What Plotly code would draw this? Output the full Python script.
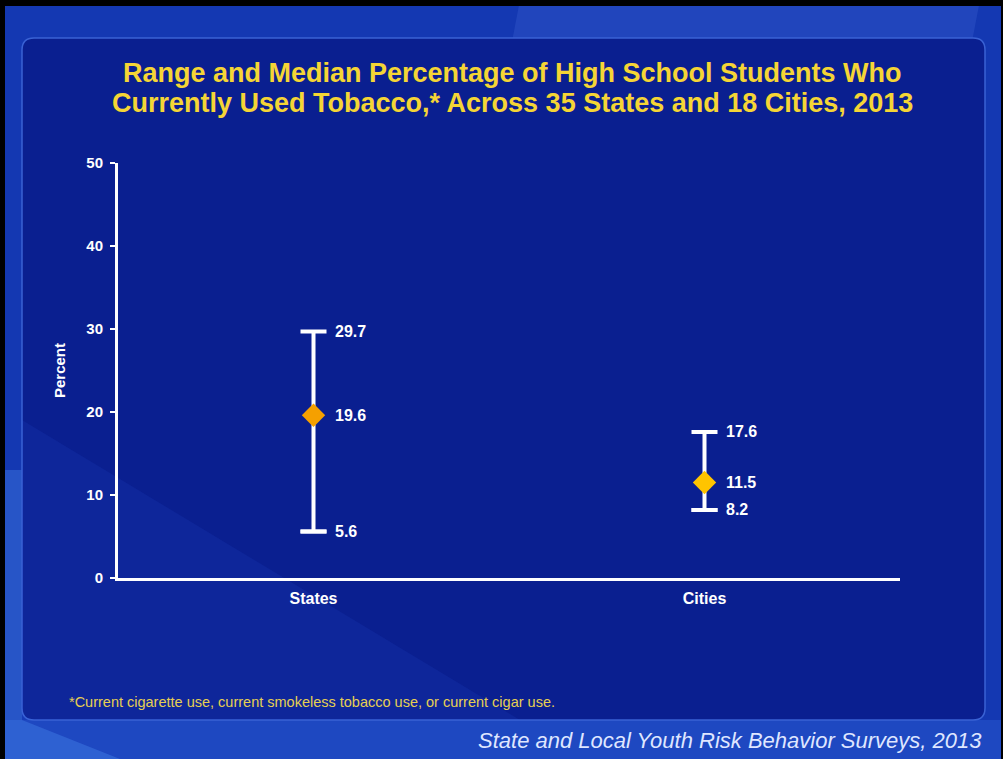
import plotly.graph_objects as go

categories = ["States", "Cities"]
lows = [5.6, 8.2]
medians = [19.6, 11.5]
highs = [29.7, 17.6]
y_ticks = [0, 10, 20, 30, 40, 50]

title_lines = ["Range and Median Percentage of High School Students Who",
               "Currently Used Tobacco,* Across 35 States and 18 Cities, 2013"]
footnote = "*Current cigarette use, current smokeless tobacco use, or current cigar use."
source = "State and Local Youth Risk Behavior Surveys, 2013"
median_colors = ["#f5a000", "#ffc400"]

W, H = 1003, 759
ML, MR, MT, MB = 118, 103, 163, 181
PW, PH = W - ML - MR, H - MT - MB


def fx(x):
    return (x - ML) / PW


def fy(y):
    return (H - MB - y) / PH


fig = go.Figure()

# range lines with caps
fig.add_trace(go.Scatter(
    x=categories, y=lows, mode="markers",
    marker=dict(size=1, color="rgba(0,0,0,0)"),
    error_y=dict(type="data", symmetric=False,
                 array=[h - l for h, l in zip(highs, lows)],
                 arrayminus=[0, 0], color="white", thickness=4, width=13),
    hoverinfo="skip", showlegend=False))
fig.add_trace(go.Scatter(
    x=categories, y=lows, mode="markers",
    marker=dict(size=1, color="rgba(0,0,0,0)"),
    error_y=dict(type="data", symmetric=False, array=[0, 0], arrayminus=[0, 0],
                 color="white", thickness=4, width=13),
    hoverinfo="skip", showlegend=False))
# medians
fig.add_trace(go.Scatter(
    x=categories, y=medians, mode="markers",
    marker=dict(symbol="diamond", size=18, color=median_colors, line=dict(width=0)),
    showlegend=False))

annotations = []
for c, l, m, h in zip(categories, lows, medians, highs):
    for v in (l, m, h):
        annotations.append(dict(x=c, y=v, xref="x", yref="y", text=f"{v:.1f}",
                                showarrow=False, xanchor="left", yanchor="middle",
                                xshift=19, font=dict(family="Arial", size=16, color="white",
                                                     weight="bold")))

for line, yc in zip(title_lines, (73, 103)):
    annotations.append(dict(x=fx(512), y=fy(yc), xref="paper", yref="paper", text=line,
                            showarrow=False, xanchor="center", yanchor="middle",
                            font=dict(family="Liberation Sans, Arial", size=27,
                                      color="#f5d535", weight="bold")))
annotations += [
    dict(x=fx(67), y=fy(702), xref="paper", yref="paper", text=footnote,
         showarrow=False, xanchor="left", yanchor="middle",
         font=dict(family="Liberation Sans, Arial", size=14.5, color="#e6cf52")),
    dict(x=fx(984), y=fy(740), xref="paper", yref="paper",
         text=f"<i>{source}</i>", showarrow=False, xanchor="right", yanchor="middle",
         font=dict(family="Liberation Sans, Arial", size=22, color="#dfe6ff")),
]


def rect(x0, y0, x1, y1, **kw):
    return dict(type="rect", xref="paper", yref="paper",
                x0=fx(x0), x1=fx(x1), y0=fy(y0), y1=fy(y1), **kw)


def poly(pts, **kw):
    p = "M " + " L ".join(f"{fx(x)},{fy(y)}" for x, y in pts) + " Z"
    return dict(type="path", xref="paper", yref="paper", path=p, **kw)


def rounded(x0, y0, x1, y1, r):
    return (f"M {fx(x0+r)},{fy(y0)} L {fx(x1-r)},{fy(y0)} Q {fx(x1)},{fy(y0)} {fx(x1)},{fy(y0+r)} "
            f"L {fx(x1)},{fy(y1-r)} Q {fx(x1)},{fy(y1)} {fx(x1-r)},{fy(y1)} "
            f"L {fx(x0+r)},{fy(y1)} Q {fx(x0)},{fy(y1)} {fx(x0)},{fy(y1-r)} "
            f"L {fx(x0)},{fy(y0+r)} Q {fx(x0)},{fy(y0)} {fx(x0+r)},{fy(y0)} Z")


shapes = [
    rect(0, 0, W, H, fillcolor="#1438b2", line=dict(width=0), layer="below"),
    poly([(520, 0), (980, 0), (930, 260), (470, 260)],
         fillcolor="rgba(120,160,255,0.13)", line=dict(width=0), layer="below"),
    poly([(0, 720), (1003, 720), (1003, 759), (0, 759)],
         fillcolor="rgba(60,120,240,0.25)", line=dict(width=0), layer="below"),
    poly([(0, 470), (22, 470), (22, 720), (120, 759), (0, 759)],
         fillcolor="rgba(90,160,255,0.28)", line=dict(width=0), layer="below"),
    dict(type="path", xref="paper", yref="paper", path=rounded(22, 38, 985, 720, 12),
         fillcolor="#0a1f90", line=dict(color="#3a62d4", width=1.5), layer="below"),
    poly([(22, 720), (22, 420), (520, 720)],
         fillcolor="rgba(60,110,255,0.09)", line=dict(width=0), layer="below"),
    rect(0, 0, W, 6, fillcolor="black", line=dict(width=0)),
    rect(0, 0, 5, H, fillcolor="black", line=dict(width=0)),
    rect(W - 2, 0, W, H, fillcolor="black", line=dict(width=0)),
]

fig.update_layout(
    width=W, height=H,
    margin=dict(l=ML, r=MR, t=MT, b=MB),
    paper_bgcolor="#1438b2", plot_bgcolor="rgba(0,0,0,0)",
    annotations=annotations, shapes=shapes,
    xaxis=dict(type="category", categoryorder="array", categoryarray=categories,
               range=[-0.5, 1.5], showgrid=False, zeroline=False,
               showline=True, linecolor="white", linewidth=3, ticks="",
               tickfont=dict(family="Arial", size=16, color="white", weight="bold"),
               ticklabelstandoff=4, fixedrange=True),
    yaxis=dict(range=[0, 50], tickvals=y_ticks, showgrid=False, zeroline=False,
               showline=True, linecolor="white", linewidth=3,
               ticks="outside", ticklen=5, tickwidth=2, tickcolor="white",
               tickfont=dict(family="Arial", size=15, color="white", weight="bold"),
               ticklabelstandoff=4,
               title=dict(text="Percent", standoff=18,
                          font=dict(family="Arial", size=15, color="white", weight="bold")),
               fixedrange=True),
)

fig.write_html("out.html", config={"displayModeBar": False},
               post_script="document.body.style.margin='0';")
